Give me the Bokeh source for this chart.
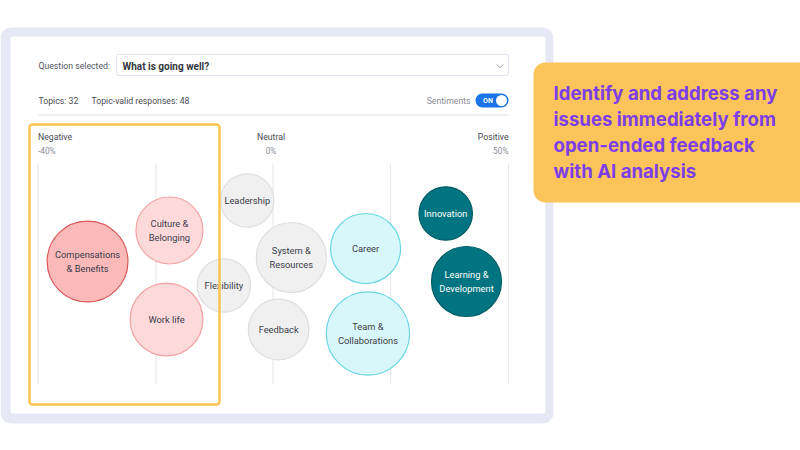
import numpy as np
from bokeh.plotting import figure
from bokeh.models import Range1d, BoxAnnotation, ColumnDataSource
from bokeh.core.properties import value
from bokeh.embed import file_html
from bokeh.resources import INLINE

# ---------------- data ----------------
topics = ["Compensations\n& Benefits", "Culture &\nBelonging", "Work life",
          "Leadership", "Flexibility", "System &\nResources", "Feedback",
          "Career", "Team &\nCollaborations", "Innovation", "Learning &\nDevelopment"]
sentiment = [-31.6, -17.7, -18.2, -4.4, -8.4, 3.9, 1.2, 19.7, 20.2, 36.7, 41.1]   # %
lane = [98, 67, 156, 37, 122, 94, 166, 85, 170, 50, 118]   # vertical packing offset
mentions = [16, 11, 13, 7, 7, 12, 9, 12, 17, 7, 12]
category = ["strong_neg", "neg", "neg", "neutral", "neutral", "neutral", "neutral",
            "pos", "pos", "strong_pos", "strong_pos"]

grid_values = [-40, -20, 0, 25, 50]
axis_labels = [("Negative", "-40%"), ("Neutral", "0%"), ("Positive", "50%")]
topics_count = 32
valid_responses = 48
question = "What is going well?"
callout = ["Identify and address any", "issues immediately from",
           "open-ended feedback", "with AI analysis"]

# ---------------- layout helpers ----------------
W, H = 800, 450
grid_px = [37.5, 155.5, 272.5, 390, 508]
chart_top, chart_bottom = 163, 384

def sx(v):
    return np.interp(v, grid_values, grid_px)

styles = {
    "strong_neg": ("#fbb9ba", "#d9595b", "#3a3d48"),
    "neg": ("#fdd9da", "#f4a3a4", "#3a3d48"),
    "neutral": ("#f0f0f0", "#dedede", "#3a3d48"),
    "pos": ("#d8f7fb", "#6cd6e3", "#3a3d48"),
    "strong_pos": ("#007480", "#005c66", "#ffffff"),
}

p = figure(width=W, height=H, output_backend="svg", toolbar_location=None,
           x_range=Range1d(0, W), y_range=Range1d(H, 0),
           min_border=0, min_border_left=0, min_border_right=0,
           min_border_top=0, min_border_bottom=0)
p.axis.visible = False
p.grid.visible = False
p.outline_line_color = None
p.background_fill_color = "white"
p.border_fill_color = "white"

FONT = value("Roboto")
SMALL = "8.7px"

def box(**kw):
    kw.setdefault("fill_alpha", 1)
    kw.setdefault("line_color", None)
    kw.setdefault("line_alpha", 1)
    p.add_layout(BoxAnnotation(**kw))

# card
box(left=0, right=553, top=27, bottom=423, fill_color="#e6e8f5", border_radius=11, level="underlay")
box(left=10, right=545, top=36, bottom=413, fill_color="white", border_radius=2, level="underlay")

# question selector
p.text(x=[38], y=[65], text=["Question selected:"], text_font=FONT, text_font_size=SMALL,
       text_color="#55585f", text_baseline="middle")
box(left=116, right=508, top=54, bottom=75, fill_color="white", line_color="#dfe3f1",
    line_width=1, border_radius=2, level="underlay")
p.text(x=[122], y=[65.5], text=[question], text_font=FONT, text_font_size="10px",
       text_font_style="bold", text_color="#34363d", text_baseline="middle")
p.line(x=[496, 499.5, 503], y=[64, 67, 64], line_color="#a9abb3", line_width=1)

# stats row
p.text(x=[38, 91], y=[100, 100], text=[f"Topics: {topics_count}",
                                         f"Topic-valid responses: {valid_responses}"],
       text_font=FONT, text_font_size=SMALL, text_color="#4a4c55", text_baseline="middle")
p.text(x=[470], y=[100], text=["Sentiments"], text_font=FONT, text_font_size=SMALL,
       text_color="#8a8d96", text_baseline="middle", text_align="right")
box(left=475, right=508, top=93, bottom=107, fill_color="#1a73e8", border_radius=7,
    level="underlay")
p.circle(x=[501], y=[100], radius=5.5, fill_color="white", line_color=None)
p.text(x=[487.5], y=[100.5], text=["ON"], text_font=FONT, text_font_size="7px",
       text_font_style="bold", text_color="white", text_baseline="middle", text_align="center")
p.line(x=[38, 508], y=[114.5, 114.5], line_color="#e9ebf6", line_width=1.5)

# axis labels
lab_x = [grid_px[0], grid_px[2] - 2, grid_px[4]]
aligns = ["left", "center", "right"]
for (name, pct), lx, al in zip(axis_labels, lab_x, aligns):
    p.text(x=[lx], y=[136], text=[name], text_font=FONT, text_font_size=SMALL,
           text_color="#4a4c55", text_baseline="middle", text_align=al)
    p.text(x=[lx], y=[150.5], text=[pct], text_font=FONT, text_font_size="8.3px",
           text_color="#8a8d96", text_baseline="middle", text_align=al)

# grid lines
gx = sx(np.array(grid_values, dtype=float))
p.segment(x0=gx, x1=gx, y0=[chart_top] * len(gx), y1=[chart_bottom] * len(gx),
          line_color="#e8e9f0", line_width=1.2)

# bubbles
src = ColumnDataSource(dict(
    x=sx(np.array(sentiment)),
    y=chart_top + np.array(lane, dtype=float),
    r=10.1 * np.sqrt(np.array(mentions, dtype=float)),
    fill=[styles[c][0] for c in category],
    line=[styles[c][1] for c in category],
    tcol=[styles[c][2] for c in category],
    label=topics,
))
p.circle(x="x", y="y", radius="r", source=src, fill_color="fill", line_color="line",
         line_width=1.2)
p.text(x="x", y="y", text="label", source=src, text_font=FONT, text_font_size="9.3px",
       text_font_style="normal", text_color="tcol", text_align="center",
       text_baseline="middle", text_line_height=1.35)

# highlight frame
box(left=29, right=219, top=124, bottom=404, fill_alpha=0, line_color="#fcc453",
    line_width=2.5, border_radius=3)

# callout
box(left=533, right=812, top=62, bottom=202, fill_color="#fbc45a", border_radius=12,
    level="underlay")
p.text(x=[553] * len(callout), y=[92 + 26 * i for i in range(len(callout))], text=callout,
       text_font=value("Inter"), text_font_size="18.6px", text_font_style="bold",
       text_color="#7b3ee8", text_baseline="middle")

open("out.html", "w").write(file_html(p, INLINE))
